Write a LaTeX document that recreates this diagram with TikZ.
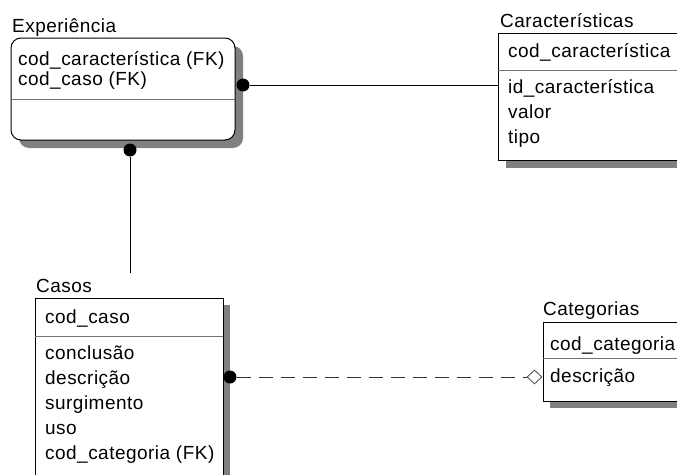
\documentclass[tikz,border=0pt]{standalone}
\usepackage{fontspec}
\setmainfont{Liberation Sans}[LetterSpace=2.5]
\usetikzlibrary{shapes.geometric}
\begin{document}
\begin{tikzpicture}[x=1pt,y=-1pt,
  font=\fontsize{19}{22}\selectfont,
  shadowfill/.style={fill=black!50, draw=none},
  entity/.style={draw=none, anchor=north west, inner sep=0pt, outer sep=0pt},
  boxline/.style={draw=black, fill=white, line width=1pt},
  sep/.style={draw=black!55, line width=1pt},
  lbl/.style={anchor=base west, inner sep=0pt},
  dotnode/.style={circle, fill=black, inner sep=0pt, minimum size=13pt},
  link/.style={draw=black, line width=1pt},
  dashlink/.style={draw=black!80, line width=1pt, dash pattern=on 14pt off 8pt},
  hollow/.style={diamond, draw=black!70, fill=white, line width=0.8pt,
    inner sep=0pt, minimum width=15pt, minimum height=14pt},
]
\useasboundingbox (0,0) rectangle (677,474);
\clip (0,0) rectangle (677,474);

% entity box frames (positions and sizes)
\node[entity, minimum width=224pt, minimum height=102pt] (exp) at (11,38) {};
\node[entity, minimum width=220pt, minimum height=127pt] (car) at (498,33) {};
\node[entity, minimum width=188pt, minimum height=210pt] (cas) at (35,298) {};
\node[entity, minimum width=160pt, minimum height=79pt] (cat) at (543,322) {};

% drop shadows, then the white boxes on top
\fill[shadowfill, rounded corners=10pt] ([shift={(8,8)}]exp.north west) rectangle ([shift={(8,8)}]exp.south east);
\fill[shadowfill] ([shift={(8,8)}]car.north west) rectangle ([shift={(8,8)}]car.south east);
\fill[shadowfill] ([shift={(7,7)}]cas.north west) rectangle ([shift={(7,7)}]cas.south east);
\fill[shadowfill] ([shift={(7,7)}]cat.north west) rectangle ([shift={(7,7)}]cat.south east);
\path[boxline, rounded corners=10pt] (exp.north west) rectangle (exp.south east);
\path[boxline] (car.north west) rectangle (car.south east);
\path[boxline] (cas.north west) rectangle (cas.south east);
\path[boxline] (cat.north west) rectangle (cat.south east);

% key / attribute separators
\draw[sep] (exp.west |- 0,99) -- (exp.east |- 0,99);
\draw[sep] (car.west |- 0,70) -- (car.east |- 0,70);
\draw[sep] (cas.west |- 0,336) -- (cas.east |- 0,336);
\draw[sep] (cat.west |- 0,358) -- (cat.east |- 0,358);

% titles
\node[lbl] (texp) at (12,32) {Experiência};
\node[lbl] (tcar) at (500,27) {Características};
\node[lbl] (tcas) at (36,292) {Casos};
\node[lbl] (tcat) at (543,315) {Categorias};

% Experiência attributes
\node[lbl] (e1) at (18,65) {cod\_característica (FK)};
\node[lbl] (e2) at (18,85) {cod\_caso (FK)};

% Características attributes
\node[lbl] (c1) at (508,57) {cod\_característica};
\node[lbl] (c2) at (508,93) {id\_característica};
\node[lbl] (c3) at (508,118) {valor};
\node[lbl] (c4) at (508,143) {tipo};

% Casos attributes
\node[lbl] (s1) at (45,323) {cod\_caso};
\node[lbl] (s2) at (45,359) {conclusão};
\node[lbl] (s3) at (45,384) {descrição};
\node[lbl] (s4) at (45,409) {surgimento};
\node[lbl] (s5) at (45,434) {uso};
\node[lbl] (s6) at (45,459) {cod\_categoria (FK)};

% Categorias attributes
\node[lbl] (g1) at (550,350) {cod\_categoria};
\node[lbl] (g2) at (550,382) {descrição};

% relationships
\node[dotnode] (dexpr) at (243,85) {};
\node[dotnode] (dexpb) at (130,150) {};
\node[dotnode] (dcas) at (230,377) {};
\node[hollow] (dia) at (534.5,377) {};
\coordinate (casTop) at (130,273);

\draw[link] (dexpr) -- (car.west |- dexpr);
\draw[link] (dexpb) -- (casTop);
\draw[dashlink] (dcas) -- (dia.west);
\end{tikzpicture}
\end{document}
